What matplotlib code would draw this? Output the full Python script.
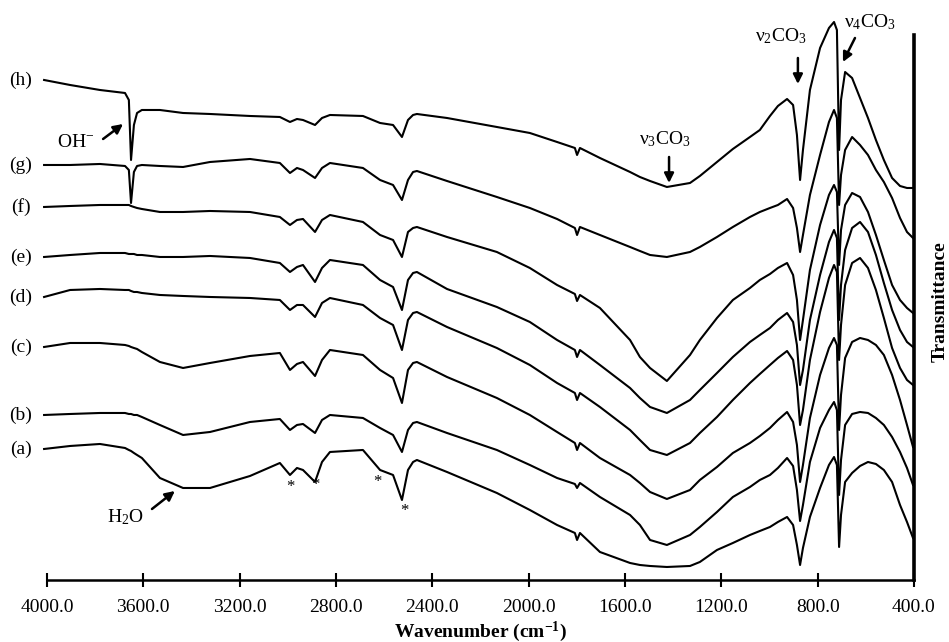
import matplotlib
matplotlib.use("Agg")
import matplotlib.pyplot as plt

plt.rcParams["font.family"] = ["Liberation Serif", "DejaVu Serif"]
plt.rcParams["mathtext.fontset"] = "custom"
plt.rcParams["mathtext.rm"] = "Liberation Serif"
plt.rcParams["mathtext.it"] = "Liberation Serif:italic"
plt.rcParams["mathtext.bf"] = "Liberation Serif:bold"

# wavenumber grid (cm-1) shared by all spectra
WAVENUMBER = [4012, 3904, 3780, 3676, 3660, 3651, 3639, 3626, 3606, 3531,
              3435, 3323, 3157, 3033, 2991, 2962, 2937, 2887, 2858, 2825,
              2688, 2617, 2563, 2526, 2501, 2480, 2464, 2339, 2132, 1995,
              1882, 1808, 1799, 1787,
              1704, 1579, 1538, 1496, 1426, 1330, 1289, 1218, 1152, 1081,
              1040, 998, 965, 927,
              902, 886, 873, 861, 832, 790, 753, 732, 720, 711,
              703, 686, 657, 624, 591, 558, 525, 491, 458, 429, 404]

# transmittance, arbitrary units (spectra stacked with offsets)
SPEC_H = [500, 495, 490, 487, 480, 420, 455, 467, 470, 470, 467, 466, 464, 463, 458, 461,
          460, 455, 462, 465, 464, 457, 455, 443, 460, 465, 466, 462, 453, 447, 438, 432,
          425, 432,
          422, 408, 403, 399, 393, 397, 404, 418, 431, 443, 450, 464, 474, 481,
          475, 445, 400, 430, 490, 532, 552, 558, 550, 430,
          480, 508, 502, 482, 462, 440, 420, 402, 394, 392, 392]
SPEC_G = [415, 415, 416, 414, 410, 377, 408, 414, 415, 414, 413, 418, 421, 417, 407, 412,
          410, 402, 412, 417, 412, 400, 395, 380, 400, 408, 409, 399, 383, 372, 361, 352,
          345, 353,
          345, 333, 329, 325, 323, 328, 333, 343, 353, 363, 368, 372, 375, 381,
          372, 352, 328, 345, 385, 425, 458, 470, 462, 375,
          405, 430, 443, 435, 425, 410, 398, 382, 362, 348, 342]
SPEC_F = [373, 374, 375, 375, 375, 374, 373, 372, 371, 368, 368, 369, 368, 363, 355, 360,
          361, 348, 360, 365, 358, 345, 340, 323, 348, 352, 353, 343, 328, 312, 295, 286,
          279, 285,
          272, 240, 223, 212, 199, 225, 240, 262, 280, 292, 300, 306, 312, 317,
          305, 280, 240, 260, 310, 355, 385, 395, 388, 315,
          350, 375, 387, 383, 368, 345, 320, 295, 280, 272, 267]
SPEC_E = [323, 325, 327, 327, 326, 326, 326, 325, 325, 323, 323, 324, 322, 317, 308, 313,
          315, 298, 312, 320, 315, 300, 293, 270, 300, 307, 308, 291, 273, 258, 240, 230,
          223, 230,
          215, 192, 182, 173, 167, 180, 190, 207, 223, 238, 245, 252, 260, 267,
          258, 235, 195, 210, 260, 305, 338, 350, 342, 260,
          295, 330, 352, 358, 348, 325, 297, 270, 250, 238, 233]
SPEC_D = [283, 290, 291, 290, 290, 289, 288, 288, 287, 285, 284, 283, 282, 280, 270, 275,
          275, 263, 277, 282, 275, 262, 255, 230, 260, 267, 268, 253, 232, 215, 197, 187,
          180, 187,
          173, 150, 140, 130, 125, 137, 147, 163, 180, 197, 206, 215, 222, 229,
          220, 195, 155, 170, 220, 268, 302, 315, 308, 220,
          255, 295, 317, 322, 312, 290, 262, 232, 212, 200, 195]
SPEC_C = [233, 237, 237, 235, 234, 233, 232, 231, 228, 218, 212, 217, 224, 227, 210, 216,
          218, 204, 220, 230, 225, 210, 202, 177, 210, 217, 218, 203, 182, 165, 148, 137,
          130, 137,
          122, 105, 97, 88, 81, 90, 100, 113, 127, 137, 144, 152, 160, 168,
          158, 135, 98, 115, 162, 205, 232, 242, 235, 150,
          185, 222, 238, 242, 240, 235, 225, 205, 180, 155, 133]
SPEC_B = [165, 166, 167, 167, 166, 166, 165, 165, 163, 155, 145, 148, 158, 161, 150, 155,
          156, 147, 160, 165, 162, 152, 145, 128, 150, 157, 158, 147, 130, 115, 102, 96,
          92, 97,
          83, 65, 55, 40, 35, 45, 53, 68, 83, 93, 100, 105, 112, 122,
          114, 90, 59, 75, 118, 152, 170, 178, 170, 85,
          120, 155, 166, 168, 167, 162, 155, 143, 128, 112, 95]
SPEC_A = [131, 134, 136, 132, 130, 129, 127, 125, 122, 102, 92, 92, 104, 117, 105, 112,
          110, 98, 118, 128, 130, 110, 105, 80, 110, 118, 120, 108, 87, 70, 55, 47,
          40, 47,
          28, 17, 15, 14, 13, 14, 18, 30, 37, 45, 49, 53, 58, 63,
          55, 35, 15, 32, 63, 92, 115, 123, 115, 33,
          65, 98, 107, 114, 118, 116, 110, 98, 75, 58, 42]

LABELS = ["(a)", "(b)", "(c)", "(d)", "(e)", "(f)", "(g)", "(h)"]
SPECTRA = [SPEC_A, SPEC_B, SPEC_C, SPEC_D, SPEC_E, SPEC_F, SPEC_G, SPEC_H]
XTICKS = [4000, 3600, 3200, 2800, 2400, 2000, 1600, 1200, 800, 400]

fig = plt.figure(figsize=(9.49, 6.42), dpi=100)
ax = fig.add_axes([0.0495, 0.0966, 0.9136, 0.8489])

for lab, spec in zip(LABELS, SPECTRA):
    ax.plot(WAVENUMBER, spec, color="black", lw=1.5, clip_on=False,
            solid_joinstyle="round")
    ax.text(4108, spec[0], lab, fontsize=14, ha="center", va="center")

ax.set_xlim(4000, 400)
ax.set_ylim(0, 545)
ax.set_xticks(XTICKS)
ax.set_xticklabels([f"{t:.1f}" for t in XTICKS])
ax.set_yticks([])
ax.tick_params(axis="x", direction="inout", length=10, width=1.5, labelsize=14, pad=9)
for s in ["left", "top"]:
    ax.spines[s].set_visible(False)
ax.spines["bottom"].set_linewidth(1.8)
ax.spines["right"].set_linewidth(2.6)

ax.set_xlabel("Wavenumber (cm$^{\\mathbf{-1}}$)", fontsize=14, fontweight="bold", labelpad=2)
ax.text(1.03, 0.51, "Transmittance", transform=ax.transAxes, rotation=90,
        fontsize=14, fontweight="bold", ha="center", va="center")

arrow = dict(arrowstyle="-|>", color="black", lw=1.8, mutation_scale=14, shrinkA=0, shrinkB=0)
ax.annotate("", xy=(3684, 456), xytext=(3767, 441), arrowprops=arrow)
ax.text(3880, 437, "OH$^{-}$", fontsize=14, ha="center", va="center")
ax.annotate("", xy=(3469, 89), xytext=(3564, 71), arrowprops=arrow)
ax.text(3676, 63, "H$_2$O", fontsize=14, ha="center", va="center")
ax.annotate("", xy=(1417, 397), xytext=(1417, 423), arrowprops=arrow)
ax.text(1434, 441, "ν$_3$CO$_3$", fontsize=14, ha="center", va="center")
ax.annotate("", xy=(882, 496), xytext=(882, 522), arrowprops=arrow, annotation_clip=False)
ax.text(952, 544, "ν$_2$CO$_3$", fontsize=14, ha="center", va="center")
ax.annotate("", xy=(695, 518), xytext=(645, 542), arrowprops=arrow, annotation_clip=False)
ax.text(583, 558, "ν$_4$CO$_3$", fontsize=14, ha="center", va="center")

for wn, t in [(2991, 93), (2887, 95), (2630, 98), (2514, 69)]:
    ax.text(wn, t, "*", fontsize=12, ha="center", va="center")

fig.savefig("out.png", dpi=100)
